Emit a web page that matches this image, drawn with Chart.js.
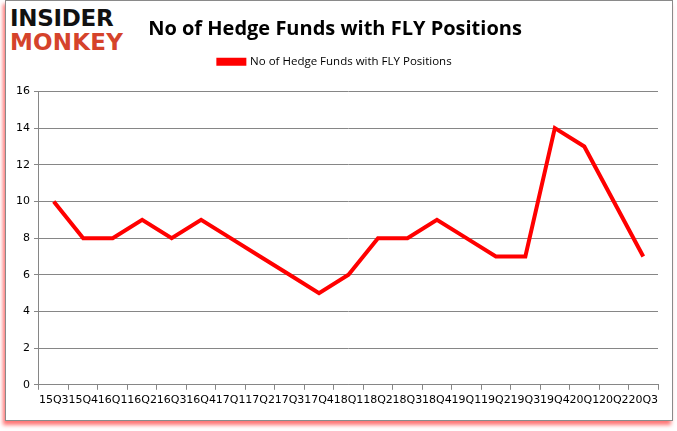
<!DOCTYPE html>
<html>
<head>
<meta charset="utf-8">
<script src="https://cdn.jsdelivr.net/npm/chart.js"></script>
<style>
  body { margin: 0; background: #fff; }
  #wrap { position: relative; width: 677px; height: 431px; }
  #frame { position: absolute; left: 5px; top: 0px; width: 666px; height: 419px;
           border: 1px solid #8a8a8a; box-shadow: -2px 4px 4px rgba(255,0,0,0.55); background: #fff; }
  #logo { position: absolute; left: 10px; top: 6px; font-family: "DejaVu Sans", sans-serif;
          font-weight: bold; font-size: 23px; line-height: 24px; }
  #logo .a { color: #111; letter-spacing: -0.3px; }
  #logo .b { color: #d5432b; letter-spacing: 0.2px; }
  canvas { position: absolute; left: 0; top: 0; }
</style>
</head>
<body>
<div id="wrap">
  <div id="frame"></div>
  <div id="logo"><div class="a">INSIDER</div><div class="b">MONKEY</div></div>
  <canvas id="grafico" width="677" height="431"></canvas>
</div>
<script>
const trimestres = ['15Q3', '15Q4', '16Q1', '16Q2', '16Q3', '16Q4', '17Q1', '17Q2', '17Q3', '17Q4',
    '18Q1', '18Q2', '18Q3', '18Q4', '19Q1', '19Q2', '19Q3', '19Q4', '20Q1', '20Q2', '20Q3'];
const fundos = [10, 8, 8, 9, 8, 9, 8, 7, 6, 5, 6, 8, 8, 9, 8, 7, 7, 14, 13, 10, 7];
const serieNome = 'No of Hedge Funds with FLY Positions';
const tituloTexto = 'No of Hedge Funds with FLY Positions';

const ctx = document.getElementById('grafico').getContext('2d');
new Chart(ctx, {
    type: 'line',
    data: {
        labels: trimestres,
        datasets: [{
            label: serieNome,
            data: fundos,
            borderColor: '#ff0000',
            backgroundColor: '#ff0000',
            borderWidth: 4,
            pointRadius: 0,
            tension: 0
        }]
    },
    options: {
        responsive: false,
        animation: false,
        layout: { padding: { left: 12, right: 19, top: 17, bottom: 20 } },
        plugins: {
            title: {
                display: true,
                text: tituloTexto,
                color: '#000',
                font: { family: 'Open Sans', size: 20, weight: 'bold', lineHeight: 1.2 },
                padding: { top: 0, bottom: -8 }
            },
            // empty spacer between legend and plot
            subtitle: {
                display: true,
                text: '',
                weight: 500,
                font: { size: 1, lineHeight: 1 },
                padding: { top: 6, bottom: 7 }
            },
            legend: {
                labels: {
                    boxWidth: 26,
                    boxHeight: 4,
                    color: '#000',
                    font: { family: 'Open Sans', size: 11.5 },
                    padding: 23
                }
            },
            tooltip: { enabled: false }
        },
        scales: {
            x: {
                offset: true,
                grid: { offset: true, drawOnChartArea: false, drawTicks: true, tickLength: 5, color: '#868686' },
                border: { color: '#868686' },
                ticks: { color: '#000', autoSkip: false, maxRotation: 0, minRotation: 0, padding: 4,
                         font: { family: 'DejaVu Sans', size: 11 } }
            },
            y: {
                min: 0,
                max: 16,
                grid: { color: '#868686', tickLength: 5 },
                border: { color: '#868686' },
                ticks: { stepSize: 2, color: '#000', padding: 4,
                         font: { family: 'DejaVu Sans', size: 11 } }
            }
        }
    }
});
</script>
</body>
</html>
